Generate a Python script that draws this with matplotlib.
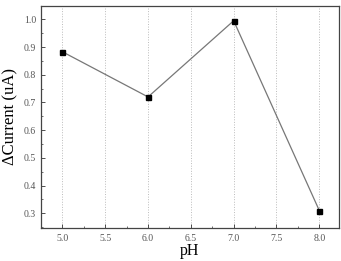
import matplotlib

matplotlib.use("Agg")
import matplotlib.pyplot as plt
from matplotlib.ticker import MultipleLocator

ph = [5.0, 6.0, 7.0, 8.0]
delta_current = [0.883, 0.72, 0.995, 0.31]
x_ticks = [5.0, 5.5, 6.0, 6.5, 7.0, 7.5, 8.0]
y_ticks = [0.3, 0.4, 0.5, 0.6, 0.7, 0.8, 0.9, 1.0]

plt.rcParams["font.family"] = ["Liberation Serif", "DejaVu Serif"]

fig = plt.figure(figsize=(3.41, 2.61), dpi=100)
ax = fig.add_axes([41 / 341, 1 - 228 / 261, 298 / 341, 222.5 / 261])

ax.plot(ph, delta_current, color="#777777", linewidth=0.9,
        marker="s", markersize=3.6, markerfacecolor="black", markeredgecolor="black")

ax.set_xlim(4.75, 8.23)
ax.set_ylim(0.247, 1.05)
ax.set_xticks(x_ticks)
ax.set_yticks(y_ticks)
ax.xaxis.set_minor_locator(MultipleLocator(0.25))
ax.yaxis.set_minor_locator(MultipleLocator(0.05))
ax.tick_params(which="both", direction="in", labelsize=7, colors="#333333",
               labelcolor="#555555")
ax.tick_params(which="major", length=3, width=0.6)
ax.tick_params(which="minor", length=1.5, width=0.5)
ax.tick_params(axis="x", pad=4)
ax.grid(axis="x", which="major", linestyle=":", color="#bbbbbb", linewidth=0.7)

for spine in ax.spines.values():
    spine.set_color("#444444")
    spine.set_linewidth(0.9)

ax.set_xlabel("pH", fontsize=11.5, labelpad=0)
ax.set_ylabel("ΔCurrent (uA)", fontsize=12, labelpad=4)

fig.savefig("out.png", dpi=100)
